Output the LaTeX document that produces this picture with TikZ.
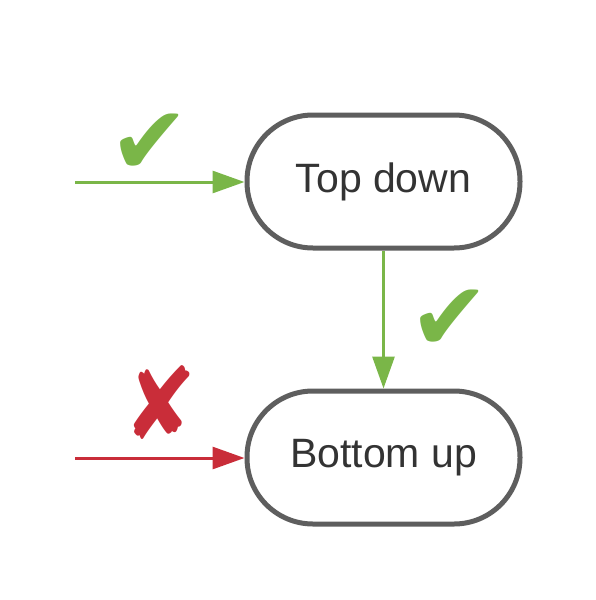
\documentclass[tikz,border=0pt]{standalone}
\usepackage{fontspec}
\setmainfont{Liberation Sans}
\newfontfamily\symfont{DejaVu Sans}
\usetikzlibrary{arrows.meta}
\definecolor{okgreen}{HTML}{7AB648}
\definecolor{badred}{HTML}{C92D39}
\definecolor{border}{HTML}{5E5E5E}
\definecolor{txt}{HTML}{333333}
\tikzset{
  stepbox/.style={draw=border, line width=5pt, rounded corners=66pt, minimum width=273pt, minimum height=133pt, inner sep=0pt, text=txt, font=\fontsize{41}{48}\selectfont},
  goodarrow/.style={draw=okgreen, line width=3pt, -{Triangle[length=32pt,width=22pt]}},
  badarrow/.style={draw=badred, line width=3pt, -{Triangle[length=32pt,width=22pt]}},
  checkmark/.style={text=okgreen, font=\symfont\fontsize{96}{100}\selectfont, inner sep=0pt},
  crossmark/.style={text=badred, font=\symfont\fontsize{80}{100}\selectfont, inner sep=0pt, yscale=1.25, xscale=1.1},
}
\begin{document}
\begin{tikzpicture}[x=1pt,y=-1pt]
\useasboundingbox (0,0) rectangle (596,600);
\node[stepbox] (top) at (383.5,181.5) {Top down};
\node[stepbox] (bot) at (383.5,457.5) {Bottom up};
\coordinate (s1) at (75,182);
\coordinate (s2) at (75,458);
\draw[goodarrow] (s1) -- (top.west |- s1);
\draw[badarrow] (s2) -- (bot.west |- s2);
\draw[goodarrow] (top.south) -- (bot.north);
\node[checkmark] (c1) at (150,144) {✔};
\node[checkmark] (c2) at (450,320) {✔};
\node[crossmark, transform shape] (x1) at (160,403) {✘};
\end{tikzpicture}
\end{document}
